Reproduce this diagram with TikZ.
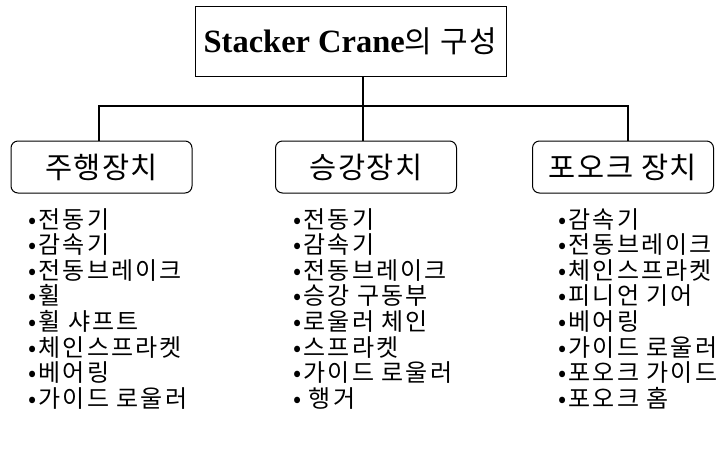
\documentclass[tikz,border=0pt]{standalone}
\usepackage{fontspec}
\setmainfont{Liberation Serif}
\newfontfamily\kr{Noto Sans CJK KR}
\newfontfamily\krsp[LetterSpace=5]{Noto Sans CJK KR}
\newfontfamily\krit[LetterSpace=9]{Noto Sans CJK KR}
\tikzset{
  topbox/.style={draw, line width=1pt, minimum width=311pt, minimum height=70pt, inner sep=0pt},
  subbox/.style={draw, line width=1pt, rounded corners=7pt, minimum width=181pt, minimum height=52pt, inner sep=0pt, font=\krsp\fontsize{29.5}{32}\selectfont},
  conn/.style={line width=2.4pt},
  itemlist/.style={anchor=north west, align=left, inner sep=0pt, font=\krit\fontsize{24}{25.6}\selectfont}
}
\begin{document}
\begin{tikzpicture}[x=1pt,y=-1pt]
\useasboundingbox (0,0) rectangle (720,448);
\node[topbox] (top) at (350.5,41.5) {\fontsize{32.5}{34}\selectfont\textbf{Stacker Crane}{\krsp\fontsize{30}{34}\selectfont 의 구성}};
\node[subbox] (c1) at (101.5,167) {주행장치};
\node[subbox] (c2) at (366,167) {승강장치};
\node[subbox] (c3) at (623,167) {포오크 장치};
\coordinate (j) at (363,106);
\coordinate (h1) at (99,106);
\coordinate (h3) at (628,106);
\draw[conn] (top.south -| j) -- (c2.north -| j);
\draw[conn] (h1 |- c1.north) -- (h1) -- (h3) -- (h3 |- c3.north);
\node[itemlist] (l1) at (28,208) {•전동기\\•감속기\\•전동브레이크\\•휠\\•휠 샤프트\\•체인스프라켓\\•베어링\\•가이드 로울러};
\node[itemlist] (l2) at (293,208) {•전동기\\•감속기\\•전동브레이크\\•승강 구동부\\•로울러 체인\\•스프라켓\\•가이드 로울러\\• 행거};
\node[itemlist] (l3) at (558,208) {•감속기\\•전동브레이크\\•체인스프라켓\\•피니언 기어\\•베어링\\•가이드 로울러\\•포오크 가이드\\•포오크 홈};
\end{tikzpicture}
\end{document}
